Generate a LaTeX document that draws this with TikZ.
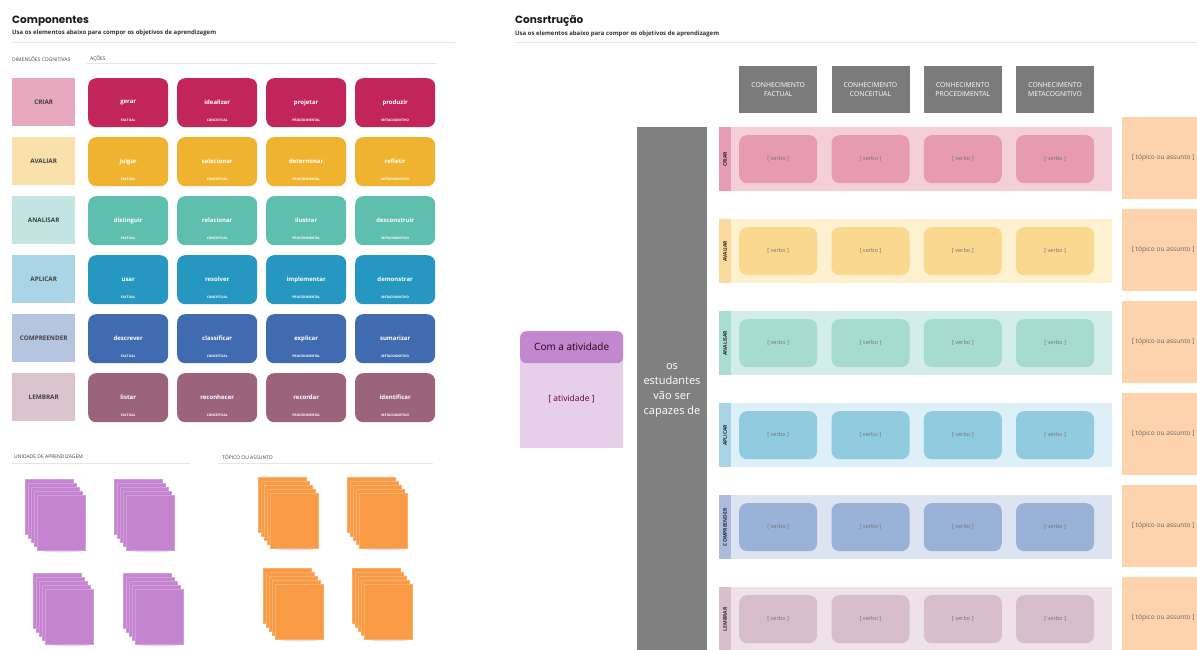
\documentclass[tikz,border=0pt]{standalone}
\usepackage{fontspec}
\setmainfont{Open Sans}
\newfontfamily\titlefont{Poppins}

% row palettes: dimension tile, action tile, band, strip, verb tile
\definecolor{crD}{HTML}{E8A8BE}\definecolor{crA}{HTML}{C2255A}
\definecolor{avD}{HTML}{FAE0AA}\definecolor{avA}{HTML}{EFB32F}
\definecolor{anD}{HTML}{C2E5E1}\definecolor{anA}{HTML}{5EBFAE}
\definecolor{apD}{HTML}{AAD5E7}\definecolor{apA}{HTML}{2597C0}
\definecolor{coD}{HTML}{B5C4DF}\definecolor{coA}{HTML}{416BB0}
\definecolor{leD}{HTML}{DCC4CF}\definecolor{leA}{HTML}{9C637C}

\definecolor{crB}{HTML}{F4CED8}\definecolor{crS}{HTML}{E59CB6}\definecolor{crV}{HTML}{E69BB0}
\definecolor{avB}{HTML}{FDF1D0}\definecolor{avS}{HTML}{F8DA9C}\definecolor{avV}{HTML}{FAD88F}
\definecolor{anB}{HTML}{D3EEEA}\definecolor{anS}{HTML}{A9DCD2}\definecolor{anV}{HTML}{A5DCCF}
\definecolor{apB}{HTML}{DDEFF7}\definecolor{apS}{HTML}{A9D4E5}\definecolor{apV}{HTML}{91CBE0}
\definecolor{coB}{HTML}{DCE3F1}\definecolor{coS}{HTML}{ABBBDB}\definecolor{coV}{HTML}{9AB2D8}
\definecolor{leB}{HTML}{EEE1E7}\definecolor{leS}{HTML}{D9BFCC}\definecolor{leV}{HTML}{D8BDCC}

\definecolor{hdrgray}{HTML}{7B7B7B}
\definecolor{colgray}{HTML}{808080}
\definecolor{topicC}{HTML}{FDD3AE}
\definecolor{actHead}{HTML}{C387CF}
\definecolor{actBody}{HTML}{E7CFEC}
\definecolor{stickyP}{HTML}{C584D0}
\definecolor{stickyO}{HTML}{F99B45}
\definecolor{ruleC}{HTML}{E6E6E6}

% a pad of sticky notes: x, y of the back sheet, colour
\newcommand\stickystack[3]{%
  \fill[black, opacity=0.12] ({#1+37},{#2+71}) ellipse (22 and 2.5);
  \foreach \s in {0,...,4}{
    \fill[#3, draw=#3!80!white, line width=0.35pt]
      ({#1+3*\s},{#2+4*\s}) rectangle ++(48,55);
  }
}

\begin{document}
\begin{tikzpicture}[x=1pt, y=-1pt,
  title/.style={anchor=west, inner sep=0, font=\titlefont\bfseries\fontsize{10.5}{12}\selectfont, text=black!90},
  subtitle/.style={anchor=west, inner sep=0, font=\bfseries\fontsize{6}{7}\selectfont, text=black!80},
  caption/.style={anchor=west, inner sep=0, font=\fontsize{5}{6}\selectfont, text=black!75},
  dimbox/.style={anchor=north west, minimum width=63pt, minimum height=48pt, inner sep=0,
    font=\bfseries\fontsize{6.3}{7}\selectfont, text=black!75},
  actbox/.style={anchor=north west, rounded corners=8pt, minimum width=80pt, minimum height=49pt,
    inner sep=0, text=white, font=\bfseries\fontsize{6}{7}\selectfont},
  sublab/.style={anchor=south, yshift=6pt, inner sep=0, text=white!90,
    font=\bfseries\fontsize{3.3}{4}\selectfont},
  hdrbox/.style={anchor=north west, fill=hdrgray, minimum width=78pt, minimum height=47pt,
    inner sep=0, align=center, text=white, font=\fontsize{6.8}{9}\selectfont},
  band/.style={anchor=north west, minimum width=393pt, minimum height=64pt, inner sep=0},
  stripbox/.style={anchor=north west, minimum width=12pt, minimum height=64pt, inner sep=0},
  striplab/.style={rotate=90, inner sep=0, font=\bfseries\fontsize{5}{5}\selectfont, text=black!85},
  verbbox/.style={anchor=north west, rounded corners=8pt, minimum width=78pt, minimum height=48pt,
    inner sep=0, text=black!55, font=\fontsize{5.6}{6}\selectfont},
  topicbox/.style={anchor=north west, fill=topicC, minimum width=82pt, minimum height=82pt,
    inner sep=0, text=black!60, font=\fontsize{6.6}{7}\selectfont},
]
\useasboundingbox (0,0) rectangle (1197,650);
\clip (0,0) rectangle (1197,650);
\fill[white] (0,0) rectangle (1197,650);

% ---------- Componentes ----------
\node[title] (ctitle) at (12,21) {Componentes};
\node[subtitle] (csub) at (12,33) {Usa os elementos abaixo para compor os objetivos de aprendizagem};
\draw[ruleC, line width=0.6pt] (12,42) -- (455,42);
\node[caption] (cdim) at (12,59) {DIMENSÕES COGNITIVAS};
\node[caption] (cact) at (90,59) {AÇÕES};
\draw[ruleC, line width=0.6pt] (86,63) -- (437,63);

\foreach \lab/\dc/\ac/\va/\vb/\vc/\vd [count=\i] in {
  CRIAR/crD/crA/gerar/idealizar/projetar/produzir,
  AVALIAR/avD/avA/julgar/selecionar/determinar/refletir,
  ANALISAR/anD/anA/distinguir/relacionar/ilustrar/desconstruir,
  APLICAR/apD/apA/usar/resolver/implementar/demonstrar,
  COMPREENDER/coD/coA/descrever/classificar/explicar/sumarizar,
  LEMBRAR/leD/leA/listar/reconhecer/recordar/identificar}{
  \pgfmathsetmacro\ty{78+(\i-1)*59}
  \node[dimbox, fill=\dc] (dim\i) at (12,\ty) {\lab};
  \foreach \v/\k [count=\j] in {\va/FACTUAL,\vb/CONCEITUAL,\vc/PROCEDIMENTAL,\vd/METACOGNITIVO}{
    \node[actbox, fill=\ac, label={[sublab]south:\k}] (act\i\j) at ({88+(\j-1)*89},\ty) {\v};
  }
}

% sticky-note pads
\node[caption] (cunit) at (14,457) {UNIDADE DE APRENDIZAGEM};
\draw[ruleC, line width=0.6pt] (12,463) -- (190,463);
\node[caption] (ctopic) at (222,457) {TÓPICO OU ASSUNTO};
\draw[ruleC, line width=0.6pt] (218,463) -- (433,463);

\stickystack{25}{479}{stickyP}
\stickystack{114}{479}{stickyP}
\stickystack{33}{573}{stickyP}
\stickystack{123}{573}{stickyP}
\stickystack{258}{477}{stickyO}
\stickystack{347}{477}{stickyO}
\stickystack{263}{568}{stickyO}
\stickystack{352}{568}{stickyO}

% ---------- Construção ----------
\node[title] (rtitle) at (515,21) {Consrtrução};
\node[subtitle] (rsub) at (515,34) {Usa os elementos abaixo para compor os objetivos de aprendizagem};
\draw[ruleC, line width=0.6pt] (515,42) -- (1197,42);

\foreach \t [count=\j] in {CONHECIMENTO\\FACTUAL, CONHECIMENTO\\CONCEITUAL,
                           CONHECIMENTO\\PROCEDIMENTAL, CONHECIMENTO\\METACOGNITIVO}{
  \node[hdrbox] (hdr\j) at ({739+(\j-1)*92.3},66) {\t};
}

% activity card
\node[anchor=north west, fill=actBody, minimum width=103pt, minimum height=108pt, inner sep=0]
  (actcard) at (520,340) {};
\node[anchor=north west, fill=actHead, rounded corners=6pt, minimum width=103pt, minimum height=32pt,
  inner sep=0, text=black!80!purple, font=\fontsize{10}{11}\selectfont] (acthead) at (520,331) {Com a atividade};
\node[text=black!50!purple, font=\fontsize{8.5}{9}\selectfont] (actname) at (571.5,399) {[ atividade ]};

% connecting column
\node[anchor=north west, fill=colgray, minimum width=70pt, minimum height=530pt, inner sep=0] (col) at (637,127) {};
\node[text=white, align=center, font=\fontsize{11}{15}\selectfont] (coltext) at (672,390)
  {os\\estudantes\\vão ser\\capazes de};

\foreach \lab/\bc/\sc/\vc [count=\i] in {
  CRIAR/crB/crS/crV, AVALIAR/avB/avS/avV, ANALISAR/anB/anS/anV,
  APLICAR/apB/apS/apV, COMPREENDER/coB/coS/coV, LEMBRAR/leB/leS/leV}{
  \pgfmathsetmacro\by{127+(\i-1)*92}
  \node[band, fill=\bc] (band\i) at (719,\by) {};
  \node[stripbox, fill=\sc] (strip\i) at (719,\by) {};
  \node[striplab] (slab\i) at (strip\i.center) {\lab};
  \foreach \j in {1,...,4}{
    \node[verbbox, fill=\vc] (verb\i\j) at ({739+(\j-1)*92.3},{\by+8}) {[ verbo ]};
  }
  \node[topicbox] (topic\i) at (1122,{\by-10}) {[ tópico ou assunto ]};
}
\end{tikzpicture}
\end{document}
